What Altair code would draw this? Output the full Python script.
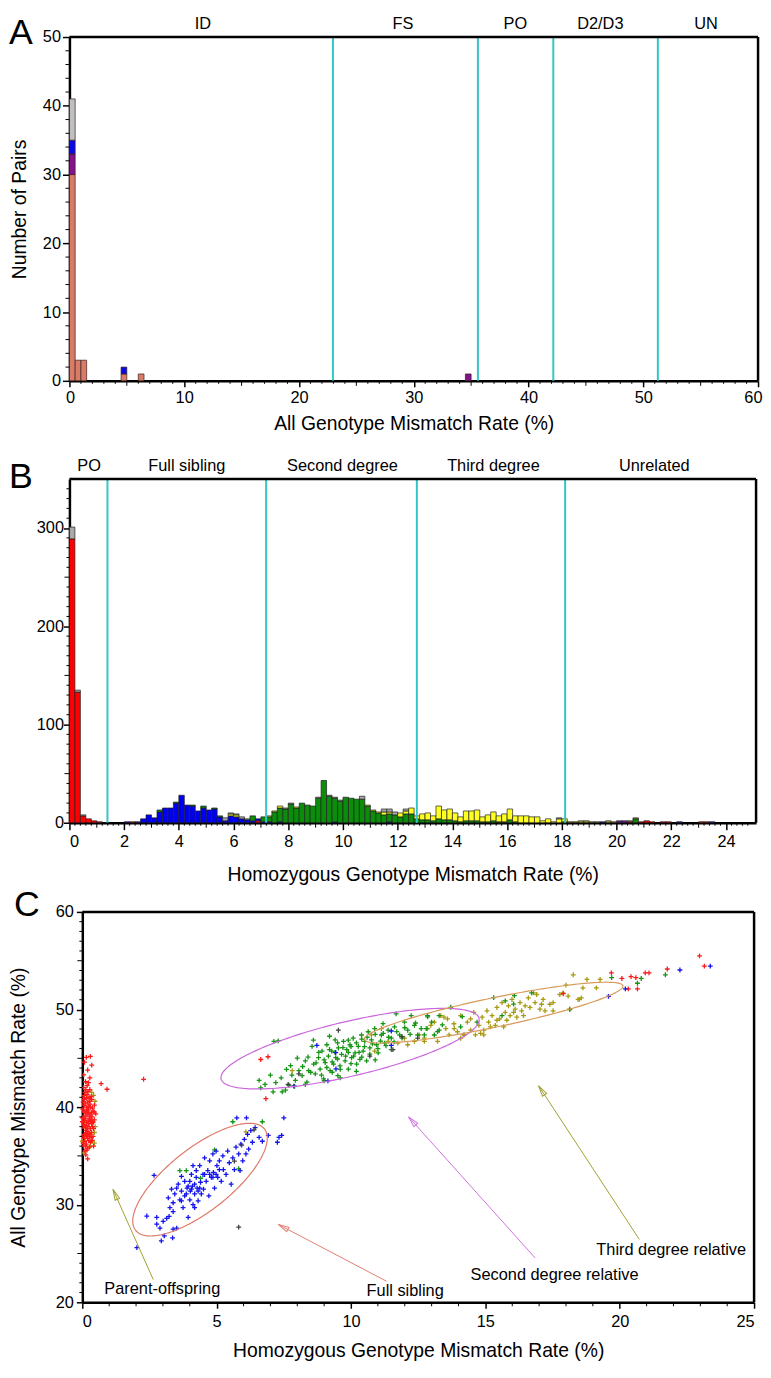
import math
import altair as alt
import numpy as np
import pandas as pd

FONT = "Liberation Sans"

# ======================= Panel A data =======================
A_BIN_START = [0.0, 0.5, 1.0, 4.5, 6.0, 34.5]
A_BIN_WIDTH = 0.5
A_SALMON = [30, 3, 3, 1, 1, 0]
A_PURPLE = [3, 0, 0, 0, 0, 1]
A_BLUE = [2, 0, 0, 1, 0, 0]
A_GREY = [6, 0, 0, 0, 0, 0]
A_CUTS = [22.96, 35.59, 42.16, 51.27]
A_REGION_NAMES = ["ID", "FS", "PO", "D2/D3", "UN"]
A_REGION_X = [11.63, 29.06, 38.85, 46.26, 55.47]
A_X_LABELS = [0, 10, 20, 30, 40, 50, 60]
A_Y_LABELS = [0, 10, 20, 30, 40, 50]

# ======================= Panel B data =======================
B_N_BINS = 126
B_BIN_WIDTH = 0.2
# {bin index: count}; bin k covers [0.2k, 0.2k+0.2)
B_RED = {0: 289, 1: 133, 2: 7, 3: 4, 4: 2, 5: 1, 11: 1, 34: 2, 102: 1, 104: 1,
         105: 2, 106: 1, 108: 1, 109: 1, 115: 1, 116: 1}
B_BLUE = {10: 1, 12: 1, 13: 4, 14: 8, 15: 5, 16: 11, 17: 15, 18: 15, 19: 20, 20: 28,
          21: 18, 22: 17, 23: 12, 24: 15, 25: 13, 26: 14, 27: 6, 28: 2, 29: 7, 30: 6,
          31: 4, 32: 3, 33: 2, 34: 2, 35: 1, 36: 1, 38: 1, 48: 1, 58: 1, 97: 1,
          111: 1, 117: 1}
B_GREEN = {16: 2, 19: 1, 22: 1, 24: 2, 26: 1, 27: 1, 33: 5, 35: 5, 36: 5, 37: 11,
           38: 14, 39: 14, 40: 19, 41: 15, 42: 20, 43: 18, 44: 17, 45: 25, 46: 43,
           47: 27, 48: 24, 49: 22, 50: 26, 51: 25, 52: 24, 53: 24, 54: 17, 55: 12,
           56: 10, 57: 8, 58: 8, 59: 8, 60: 6, 61: 9, 62: 9, 63: 4, 64: 3, 65: 3,
           66: 2, 67: 4, 68: 3, 69: 3, 70: 2, 71: 1, 72: 2, 73: 2, 74: 2, 75: 1,
           76: 1, 77: 2, 78: 1, 79: 1, 80: 3, 81: 1, 90: 1, 103: 4}
B_YELLOW = {29: 2, 30: 2, 36: 1, 37: 1, 38: 2, 41: 1, 54: 1, 55: 1, 56: 1, 57: 3,
            58: 2, 60: 4, 61: 3, 62: 6, 63: 3, 64: 6, 65: 7, 66: 5, 67: 13, 68: 10,
            69: 11, 70: 8, 71: 5, 72: 10, 73: 10, 74: 11, 75: 5, 76: 7, 77: 9, 78: 6,
            79: 8, 80: 11, 81: 6, 82: 7, 83: 7, 84: 6, 85: 6, 86: 2, 87: 4, 88: 1,
            89: 4, 90: 3}
B_OLIVE = {91: 1, 92: 1, 93: 2, 94: 2, 95: 1, 96: 1, 98: 2, 99: 1, 102: 1, 103: 1}
B_PURPLE = {100: 2, 101: 2}
B_GREY = {0: 12, 1: 2, 2: 1, 28: 3, 29: 1, 30: 1, 31: 2, 32: 1, 39: 1, 40: 1, 45: 1,
          47: 1, 48: 1, 49: 1, 53: 3, 57: 3, 58: 3, 59: 3, 61: 2, 89: 1}
B_CUTS = [1.39, 7.19, 12.70, 18.12]
B_REGION_NAMES = ["PO", "Full sibling", "Second degree", "Third degree", "Unrelated"]
B_REGION_X = [0.72, 4.29, 9.98, 15.5, 21.38]
B_X_LABELS = [0, 2, 4, 6, 8, 10, 12, 14, 16, 18, 20, 22, 24]
B_Y_LABELS = [0, 100, 200, 300]

# ======================= Panel C data =======================
C_RED = [(0.05, 36.0), (0.10, 36.5), (0.15, 37.0), (0.20, 37.5), (0.25, 38.0), (0.30, 38.5),
         (0.05, 39.0), (0.10, 39.5), (0.15, 40.0), (0.20, 40.5), (0.25, 41.0), (0.10, 41.5),
         (0.05, 42.0), (0.15, 36.2), (0.20, 36.8), (0.25, 37.3), (0.30, 37.8), (0.35, 38.3),
         (0.12, 38.8), (0.18, 39.3), (0.22, 39.8), (0.28, 40.3), (0.08, 40.8), (0.14, 37.6),
         (0.06, 38.2), (0.32, 39.2), (0.38, 38.0), (0.40, 39.6), (0.35, 40.8), (0.02, 37.0),
         (0.02, 39.8), (0.10, 35.5), (0.20, 35.8), (0.30, 36.4), (0.40, 37.0), (0.45, 38.7),
         (0.12, 42.6), (0.05, 43.3), (0.20, 43.8), (0.08, 44.6), (0.30, 45.2), (0.15, 45.1),
         (0.00, 38.5), (0.26, 39.0), (0.16, 38.4), (0.09, 37.2), (0.24, 36.6), (0.34, 37.4),
         (0.18, 41.3), (0.28, 41.8), (0.45, 40.2), (0.50, 39.3), (0.42, 36.0), (0.20, 34.7),
         (0.13, 35.1), (0.07, 40.2), (0.22, 38.6), (0.11, 37.9), (0.27, 37.0), (0.17, 39.7),
         (0.04, 41.0), (0.33, 36.9), (0.23, 40.0), (0.35, 44.3), (0.28, 42.99), (0.70, 42.41),
         (0.92, 41.83), (2.28, 42.85), (0.33, 36.5), (6.64, 44.88), (6.91, 45.16), (6.83, 40.86),
         (22.97, 55.5), (23.15, 54.44), (21.77, 54.15), (21.09, 53.76), (20.95, 53.76),
         (20.60, 53.27), (20.42, 53.37), (20.08, 53.18), (19.69, 53.76), (20.32, 52.11),
         (20.66, 52.11), (17.90, 51.62),
         (0.03, 36.3), (0.08, 36.8), (0.13, 37.3), (0.18, 37.8), (0.23, 38.3), (0.28, 38.8),
         (0.33, 39.4), (0.38, 39.9), (0.03, 38.0), (0.08, 38.6), (0.13, 39.1), (0.18, 39.6),
         (0.23, 40.1), (0.28, 40.6), (0.33, 41.1), (0.03, 40.5), (0.08, 41.2), (0.13, 41.8),
         (0.18, 42.2), (0.23, 42.5), (0.12, 36.0), (0.17, 35.6), (0.27, 35.9), (0.37, 36.6),
         (0.42, 37.8), (0.36, 39.0), (0.31, 40.0), (0.26, 40.9), (0.21, 41.6), (0.16, 40.9),
         (0.11, 40.4), (0.06, 39.5), (0.01, 38.9), (0.19, 37.1), (0.29, 37.2), (0.39, 38.4),
         (0.44, 39.5), (0.14, 38.1), (0.24, 39.4), (0.34, 38.7)]
C_BLUE = [(2.40, 28.84), (2.67, 33.0), (2.77, 28.7), (2.89, 27.6), (2.94, 26.3), (3.01, 28.3),
          (3.05, 26.8), (3.14, 28.6), (3.20, 30.7), (3.26, 29.7), (3.32, 31.6), (3.36, 26.6),
          (3.38, 30.2), (3.44, 31.1), (3.51, 27.6), (3.57, 32.1), (3.63, 30.5), (3.69, 31.4),
          (3.75, 29.7), (3.81, 32.4), (3.87, 31.1), (3.90, 31.7), (3.94, 28.7), (4.00, 30.5),
          (4.02, 31.4), (4.06, 33.1), (4.10, 31.9), (4.12, 30.0), (4.18, 31.1), (4.24, 32.8),
          (4.27, 31.7), (4.31, 30.4), (4.37, 34.0), (4.40, 32.3), (4.43, 31.1), (4.49, 33.1),
          (4.51, 31.6), (4.55, 34.8), (4.61, 32.4), (4.67, 33.5), (4.71, 30.9), (4.74, 34.5),
          (4.80, 32.8), (4.86, 35.2), (4.88, 33.3), (4.92, 31.7), (4.98, 35.5), (5.01, 34.0),
          (5.04, 32.8), (5.10, 34.5), (5.17, 32.4), (5.23, 35.0), (5.25, 33.6), (5.35, 33.1),
          (5.41, 35.5), (5.47, 34.3), (5.54, 32.1), (5.60, 34.8), (5.66, 33.6), (5.72, 35.9),
          (5.82, 35.2), (5.87, 33.5), (5.90, 36.2), (5.97, 34.5), (6.03, 36.7), (6.09, 35.2),
          (6.15, 37.2), (6.19, 35.7), (6.27, 37.6), (6.33, 36.4), (6.43, 37.9), (6.58, 36.9),
          (6.70, 36.5), (6.92, 37.1), (7.26, 36.4), (7.32, 36.9), (7.42, 37.1), (7.50, 38.9),
          (6.11, 38.9), (5.75, 38.9), (3.38, 27.5), (2.77, 28.0), (4.18, 29.7), (2.03, 25.6),
          (3.94, 31.9), (4.06, 31.6), (4.18, 32.1), (4.31, 31.4), (4.00, 32.4), (3.81, 30.9),
          (3.69, 30.4), (4.37, 31.7), (4.55, 33.1), (4.74, 33.1), (4.86, 32.8), (4.98, 33.1),
          (5.10, 33.6), (4.24, 33.5), (4.12, 34.0), (3.69, 32.9), (3.51, 31.7), (3.38, 29.3),
          (3.23, 28.8), (8.73, 46.33), (9.43, 45.58), (9.44, 43.91), (9.14, 42.69),
          (7.87, 42.15), (11.50, 47.80), (11.50, 46.33), (23.37, 54.44), (22.24, 54.05),
          (19.58, 51.35), (20.21, 52.11)]
C_GREEN = [(7.13, 46.73), (7.29, 46.78), (6.64, 41.97), (6.58, 42.74), (7.10, 41.57), (7.44, 41.57),
           (7.56, 41.73), (7.69, 42.24), (7.75, 44.25), (7.93, 42.74), (8.06, 43.73), (8.18, 43.23),
           (8.30, 44.73), (8.36, 42.56), (8.42, 43.73), (8.55, 46.22), (8.61, 44.40), (8.67, 43.40),
           (8.79, 45.06), (8.85, 43.89), (8.92, 45.73), (8.98, 42.90), (9.04, 44.56), (9.10, 46.39),
           (9.16, 45.22), (9.22, 43.73), (9.28, 45.73), (9.35, 44.40), (9.41, 46.89), (9.43, 45.06),
           (9.51, 43.23), (9.53, 46.06), (9.59, 44.23), (9.65, 45.40), (9.72, 46.73), (9.78, 44.73),
           (9.84, 45.89), (9.90, 43.89), (9.96, 46.39), (10.02, 45.06), (10.08, 47.06), (10.15, 45.56),
           (10.21, 44.40), (10.27, 46.22), (10.33, 44.89), (10.39, 47.39), (10.45, 45.73), (10.51, 46.73),
           (10.58, 44.73), (10.64, 47.72), (10.70, 46.06), (10.76, 46.89), (10.88, 48.05), (10.95, 46.39),
           (11.01, 45.56), (11.13, 47.39), (11.19, 48.55), (11.25, 46.55), (11.38, 47.88), (11.50, 47.06),
           (11.62, 48.22), (11.68, 49.55), (11.81, 47.39), (11.99, 48.71), (12.11, 47.88), (12.24, 49.38),
           (12.36, 48.38), (12.48, 47.39), (12.61, 48.05), (12.85, 49.24), (13.10, 47.39), (13.28, 47.88),
           (8.2, 44.16), (8.4, 45.13), (8.5, 43.57), (8.7, 44.54), (8.8, 45.61), (8.9, 43.28),
           (9.0, 44.83), (9.1, 44.06), (9.2, 45.90), (9.3, 44.64), (9.3, 43.57), (9.4, 45.61),
           (9.5, 44.93), (9.5, 46.58), (9.6, 43.86), (9.7, 46.10), (9.8, 45.22), (9.9, 46.87),
           (9.9, 45.61), (10.0, 44.45), (10.0, 46.19), (10.1, 45.22), (10.2, 46.58), (10.3, 45.61),
           (10.4, 46.97), (10.4, 45.13), (10.5, 46.19), (10.6, 47.16), (10.7, 45.42), (10.8, 46.48),
           (10.9, 47.45), (11.0, 46.00), (11.1, 46.77), (11.2, 47.55), (11.3, 46.29), (11.4, 47.16),
           (11.6, 46.68), (11.7, 47.74), (11.9, 47.07), (12.0, 48.13), (12.2, 47.45), (12.4, 48.62),
           (8.0, 45.03), (7.8, 43.28), (7.6, 43.86), (7.4, 42.99), (7.2, 42.51), (7.0, 43.28),
           (6.8, 42.32), (7.9, 42.12), (8.3, 42.32), (9.0, 42.70), (9.6, 42.99), (10.2, 43.67),
           (8.6, 46.87), (9.2, 47.26), (10.9, 44.83), (11.5, 45.90), (12.8, 48.04), (13.0, 48.71),
           (13.4, 48.42), (12.85, 49.37), (13.28, 49.37), (14.14, 49.27), (13.71, 50.23),
           (15.31, 51.22), (15.74, 50.89), (16.08, 51.43), (16.72, 51.70), (16.05, 50.56),
           (18.14, 49.99), (13.22, 47.73), (12.73, 47.40), (14.08, 48.23), (14.69, 48.71),
           (15.62, 49.37), (21.70, 53.56), (20.80, 53.18), (20.66, 52.69), (19.70, 53.27),
           (5.60, 38.5), (6.70, 38.5), (4.92, 35.62), (3.63, 33.49), (3.87, 33.49), (4.40, 32.71),
           (5.82, 33.68)]
C_OLIVE = [(12.54, 47.40), (12.97, 48.38), (13.46, 49.21), (13.53, 48.05), (13.65, 47.40),
           (13.83, 48.54), (13.96, 47.72), (14.20, 47.40), (14.33, 48.71), (14.45, 47.88),
           (14.57, 49.70), (14.63, 47.40), (14.76, 48.38), (14.88, 49.21), (14.94, 47.88),
           (15.06, 49.87), (15.12, 48.71), (15.25, 49.37), (15.37, 48.38), (15.43, 50.21),
           (15.53, 49.04), (15.62, 50.70), (15.74, 49.70), (15.86, 50.37), (15.92, 49.37),
           (15.99, 51.03), (16.11, 50.03), (16.17, 49.21), (16.29, 50.70), (16.35, 49.87),
           (16.48, 50.37), (16.60, 51.20), (16.66, 50.21), (16.79, 51.70), (16.85, 50.70),
           (16.91, 51.54), (17.03, 50.03), (17.09, 50.54), (17.22, 49.87), (17.40, 50.54),
           (17.52, 50.70), (17.77, 51.54), (17.89, 51.70), (18.08, 51.37), (18.45, 51.03),
           (18.57, 51.20), (17.52, 49.87), (17.15, 51.03), (16.42, 49.37), (15.68, 48.23),
           (14.94, 47.40), (14.08, 47.06), (13.22, 46.73), (12.73, 46.73), (14.45, 49.04),
           (14.82, 47.55), (15.19, 48.23), (15.43, 48.90), (15.80, 48.90), (16.05, 49.70),
           (18.27, 53.56), (18.78, 53.08), (19.27, 53.08), (19.13, 52.21), (18.63, 52.21),
           (18.00, 52.50), (18.50, 51.04), (18.14, 50.07), (10.76, 47.40), (11.13, 48.05),
           (11.38, 46.73), (11.74, 46.55), (12.11, 46.39), (12.36, 46.73), (12.73, 47.06),
           (12.85, 48.05), (13.10, 48.71), (13.34, 49.38), (13.59, 49.04), (13.84, 48.05),
           (14.08, 49.38), (14.20, 47.40), (11.99, 47.06), (10.88, 45.73), (7.81, 43.73),
           (0.35, 41.5), (0.30, 36.0), (0.40, 38.5), (0.05, 35.3), (0.45, 37.4), (6.09, 37.46),
           (0.48, 38.0), (0.47, 40.6), (0.42, 41.2), (0.00, 36.5), (0.45, 36.3)]
C_DARK = [(9.53, 47.88), (10.70, 45.22), (11.56, 45.89), (11.90, 47.22), (12.48, 47.06),
          (8.06, 43.40), (7.66, 42.33), (6.39, 37.66), (5.93, 36.10), (5.66, 34.46), (5.82, 27.7)]

# ellipses: centre, half major-axis vector, half minor-axis vector (data units)
C_ELL_NAMES = ["Full sibling", "Second degree", "Third degree"]
C_ELL_CX = [4.38, 9.965, 15.31]
C_ELL_CY = [32.57, 45.99, 49.68]
C_ELL_UX = [2.40, 4.80, 4.81]
C_ELL_UY = [5.18, 3.11, 2.75]
C_ELL_VX = [0.71, 0.24, 0.11]
C_ELL_VY = [-2.55, -2.72, -1.47]

C_ARROW_NAMES = ["Parent-offspring", "Full sibling", "Second degree relative", "Third degree relative"]
C_ARROW_TAIL_X = [2.64, 11.32, 16.85, 20.73]
C_ARROW_TAIL_Y = [22.33, 22.16, 24.55, 26.44]
C_ARROW_HEAD_X = [1.14, 7.29, 12.14, 16.98]
C_ARROW_HEAD_Y = [31.58, 27.98, 39.00, 42.19]
C_LABEL_X = [0.82, 10.58, 14.45, 19.13]
C_LABEL_Y = [21.37, 21.13, 22.84, 25.34]
C_X_LABELS = [0, 5, 10, 15, 20, 25]
C_Y_LABELS = [20, 30, 40, 50, 60]

# ======================= styles / geometry =======================
A_COLORS = {"salmon": "#d97c67", "purple": "#84128a", "blue": "#0a0ae6", "grey": "#bfbfbf"}
B_COLORS = {"red": "#ff0000", "blue": "#0000f0", "green": "#0b8c0b", "yellow": "#ffff22",
            "olive": "#9c9a30", "purple": "#6b1c8e", "grey": "#a9a9a9"}
C_COLORS = {"red": "#ff1a1a", "blue": "#1414ee", "green": "#169416", "olive": "#a89a12",
            "dark": "#404040"}
ELL_COLORS = ["#e07a6a", "#cc66dd", "#d89a58"]
ARROW_COLORS = ["#a0a030", "#e08070", "#d070e0", "#a0a030"]
CYAN = "#33c6c6"
LABEL_FS = 16.5
TITLE_FS = 19.5
TEXT_FS = 16.5
LETTER_FS = 36
FRAME_W = 2.5

# each panel: plot area inset (left, top) inside its own cell, plot width/height
A_L, A_T, WA, HA = 61, 21, 695, 347
B_L, B_T, WB, HB = 61, 99, 693, 347
C_L, C_T, WC, HC = 74, 90, 678, 394
XB_MAX = 25.1


# ======================= helpers =======================
def xtick_layer(vals, length, scale, axis, bottom):
    df = pd.DataFrame({"v": vals})
    return alt.Chart(df).mark_rule(color="black", strokeWidth=1).encode(
        x=alt.X("v:Q", scale=scale, axis=axis),
        y=alt.value(bottom), y2=alt.value(bottom + length))


def ytick_layer(vals, length, scale, axis, left):
    df = pd.DataFrame({"v": vals})
    return alt.Chart(df).mark_rule(color="black", strokeWidth=1).encode(
        y=alt.Y("v:Q", scale=scale, axis=axis),
        x=alt.value(left), x2=alt.value(left - length))


def letter_layer(t, x, y):
    return alt.Chart(pd.DataFrame({"t": [t]})).mark_text(
        align="left", baseline="top", fontSize=LETTER_FS, font=FONT, color="black"
    ).encode(x=alt.value(x), y=alt.value(y), text="t:N")


def frame_layers(x_lo, x_hi, scale, axis, top, bottom):
    df = pd.DataFrame({"x0": [x_lo], "x1": [x_hi]})
    top_line = alt.Chart(df).mark_rule(color="black", strokeWidth=FRAME_W).encode(
        x=alt.X("x0:Q", scale=scale, axis=axis), x2="x1:Q", y=alt.value(top))
    right_line = alt.Chart(df).mark_rule(color="black", strokeWidth=FRAME_W).encode(
        x=alt.X("x1:Q", scale=scale, axis=axis), y=alt.value(top), y2=alt.value(bottom))
    return top_line, right_line


def region_layers(cuts, names, xs, scale, axis, top, bottom):
    rules = alt.Chart(pd.DataFrame({"c": cuts})).mark_rule(color=CYAN, strokeWidth=2).encode(
        x=alt.X("c:Q", scale=scale, axis=axis), y=alt.value(top), y2=alt.value(bottom))
    labels = alt.Chart(pd.DataFrame({"x": xs, "t": names})).mark_text(
        fontSize=TEXT_FS, baseline="top", font=FONT, color="black").encode(
        x=alt.X("x:Q", scale=scale, axis=axis), y=alt.value(top - 21), text="t:N")
    return rules, labels


# ======================= Panel A =======================
a_rows = []
for i, xs in enumerate(A_BIN_START):
    base = 0
    for cat, arr in [("salmon", A_SALMON), ("purple", A_PURPLE), ("blue", A_BLUE), ("grey", A_GREY)]:
        c = arr[i]
        if c > 0:
            a_rows.append({"x0": xs, "x1": xs + A_BIN_WIDTH, "y0": base, "y1": base + c,
                           "col": A_COLORS[cat]})
            base += c
dfa = pd.DataFrame(a_rows)

XS_A = alt.Scale(domain=[0, 60], nice=False, zero=False, range=[A_L, A_L + WA])
YS_A = alt.Scale(domain=[0, 50], nice=False, range=[A_T + HA, A_T])
AX_A_X = alt.Axis(values=A_X_LABELS, title="All Genotype Mismatch Rate (%)", tickSize=6,
                  labelPadding=3, titlePadding=9, labelFlush=True, labelFlushOffset=4)
AX_A_Y = alt.Axis(values=A_Y_LABELS, title="Number of Pairs", tickSize=7, labelPadding=2,
                  titlePadding=13, offset=-A_L)

bars_a = alt.Chart(dfa).mark_rect(stroke="#3a2020", strokeWidth=0.7).encode(
    x=alt.X("x0:Q", scale=XS_A, axis=AX_A_X), x2="x1:Q",
    y=alt.Y("y0:Q", scale=YS_A, axis=AX_A_Y), y2="y1:Q",
    color=alt.Color("col:N", scale=None))
rules_a, labels_a = region_layers(A_CUTS, A_REGION_NAMES, A_REGION_X, XS_A, AX_A_X, A_T, A_T + HA)
ftop_a, fright_a = frame_layers(A_X_LABELS[0], A_X_LABELS[-1], XS_A, AX_A_X, A_T, A_T + HA)
panel_a = alt.layer(
    bars_a, rules_a, labels_a, ftop_a, fright_a,
    xtick_layer([v for v in range(1, 60) if v % 5 != 0], 3, XS_A, AX_A_X, A_T + HA),
    xtick_layer([v for v in range(5, 60, 10)], 5, XS_A, AX_A_X, A_T + HA),
    ytick_layer([v for v in range(2, 50, 2) if v % 10 != 0], 4, YS_A, AX_A_Y, A_L),
    letter_layer("A", 0, A_T - 21),
).properties(width=A_L + WA, height=A_T + HA)

# ======================= Panel B =======================
b_order = [("red", B_RED), ("blue", B_BLUE), ("green", B_GREEN), ("yellow", B_YELLOW),
           ("olive", B_OLIVE), ("purple", B_PURPLE), ("grey", B_GREY)]
b_rows = []
for k in range(B_N_BINS):
    base = 0
    x0 = round(k * B_BIN_WIDTH, 4)
    for cat, d in b_order:
        c = d.get(k, 0)
        if c > 0:
            b_rows.append({"x0": x0, "x1": round(x0 + B_BIN_WIDTH, 4), "y0": base,
                           "y1": base + c, "col": B_COLORS[cat]})
            base += c
dfb = pd.DataFrame(b_rows)

XS_B = alt.Scale(domain=[0, XB_MAX], nice=False, zero=False, range=[B_L, B_L + WB])
YS_B = alt.Scale(domain=[0, 350], nice=False, range=[B_T + HB, B_T])
AX_B_X = alt.Axis(values=B_X_LABELS, title="Homozygous Genotype Mismatch Rate (%)", tickSize=7,
                  labelPadding=4, titlePadding=16)
AX_B_Y = alt.Axis(values=B_Y_LABELS, title=None, tickSize=6, labelPadding=0, offset=-B_L)

bars_b = alt.Chart(dfb).mark_rect(stroke="#202020", strokeWidth=0.7).encode(
    x=alt.X("x0:Q", scale=XS_B, axis=AX_B_X), x2="x1:Q",
    y=alt.Y("y0:Q", scale=YS_B, axis=AX_B_Y), y2="y1:Q",
    color=alt.Color("col:N", scale=None))
rules_b, labels_b = region_layers(B_CUTS, B_REGION_NAMES, B_REGION_X, XS_B, AX_B_X, B_T, B_T + HB)
ftop_b, fright_b = frame_layers(0, XB_MAX, XS_B, AX_B_X, B_T, B_T + HB)
b_minor = [round(k * 0.2, 4) for k in range(1, 126) if k % 5 != 0]
panel_b = alt.layer(
    bars_b, rules_b, labels_b, ftop_b, fright_b,
    xtick_layer(b_minor, 3, XS_B, AX_B_X, B_T + HB),
    xtick_layer([v for v in range(1, 25, 2)], 5, XS_B, AX_B_X, B_T + HB),
    ytick_layer([v for v in range(10, 350, 10) if v % 50 != 0], 3, YS_B, AX_B_Y, B_L),
    ytick_layer([50, 150, 250], 5, YS_B, AX_B_Y, B_L),
    letter_layer("B", 0, B_T - 19),
).properties(width=B_L + WB, height=B_T + HB)

# ======================= Panel C =======================
XS_C = alt.Scale(domain=[0, 25], nice=False, zero=False, range=[C_L, C_L + WC])
YS_C = alt.Scale(domain=[20, 60], nice=False, zero=False, range=[C_T + HC, C_T])
AX_C_X = alt.Axis(values=C_X_LABELS, title="Homozygous Genotype Mismatch Rate (%)", tickSize=6,
                  labelPadding=5, titlePadding=12)
AX_C_Y = alt.Axis(values=C_Y_LABELS, title="All Genotype Mismatch Rate (%)", tickSize=6,
                  labelPadding=3, titlePadding=27, offset=-C_L)

pts = []
for name, lst in [("olive", C_OLIVE), ("green", C_GREEN), ("red", C_RED), ("blue", C_BLUE),
                  ("dark", C_DARK)]:
    for (x, y) in lst:
        pts.append({"x": x, "y": y, "col": C_COLORS[name]})
dfc = pd.DataFrame(pts)

PLUS = "M-1,0L1,0M0,-1L0,1"
scatter = alt.Chart(dfc).mark_point(shape=PLUS, filled=False, size=24, strokeWidth=1.3,
                                    opacity=1).encode(
    x=alt.X("x:Q", scale=XS_C, axis=AX_C_X),
    y=alt.Y("y:Q", scale=YS_C, axis=AX_C_Y),
    color=alt.Color("col:N", scale=None))

ell_rows = []
ts = np.linspace(0, 2 * np.pi, 181)
for j, nm in enumerate(C_ELL_NAMES):
    for i, t in enumerate(ts):
        ell_rows.append({
            "name": nm, "i": i,
            "x": C_ELL_CX[j] + C_ELL_UX[j] * math.cos(t) + C_ELL_VX[j] * math.sin(t),
            "y": C_ELL_CY[j] + C_ELL_UY[j] * math.cos(t) + C_ELL_VY[j] * math.sin(t),
            "col": ELL_COLORS[j]})
dfe = pd.DataFrame(ell_rows)
ellipses = alt.Chart(dfe).mark_line(strokeWidth=1.2).encode(
    x=alt.X("x:Q", scale=XS_C, axis=AX_C_X),
    y=alt.Y("y:Q", scale=YS_C, axis=AX_C_Y),
    order="i:Q", detail="name:N",
    color=alt.Color("col:N", scale=None))

sx, sy = WC / 25.0, HC / 40.0
HEAD_LEN = 5.5
arr_rows = []
for j, nm in enumerate(C_ARROW_NAMES):
    tx, ty, hx, hy = C_ARROW_TAIL_X[j], C_ARROW_TAIL_Y[j], C_ARROW_HEAD_X[j], C_ARROW_HEAD_Y[j]
    dx = (hx - tx) * sx
    dys = -(hy - ty) * sy
    L = math.hypot(dx, dys)
    ux, uy = dx / L, dys / L
    ang = math.degrees(math.atan2(dx, -dys)) % 360
    arr_rows.append({"name": nm, "tx": tx, "ty": ty, "hx": hx, "hy": hy,
                     "cx": hx - ux * HEAD_LEN / sx, "cy": hy + uy * HEAD_LEN / sy,
                     "ang": ang, "col": ARROW_COLORS[j],
                     "lx": C_LABEL_X[j], "ly": C_LABEL_Y[j]})
dfarr = pd.DataFrame(arr_rows)
arrow_lines = alt.Chart(dfarr).mark_rule(strokeWidth=1).encode(
    x=alt.X("tx:Q", scale=XS_C, axis=AX_C_X), x2="hx:Q",
    y=alt.Y("ty:Q", scale=YS_C, axis=AX_C_Y), y2="hy:Q",
    color=alt.Color("col:N", scale=None))
HEAD = "M0,-1L0.45,1L-0.45,1Z"
arrow_heads = alt.Chart(dfarr).mark_point(shape=HEAD, filled=False, size=121, strokeWidth=1,
                                          opacity=1).encode(
    x=alt.X("cx:Q", scale=XS_C, axis=AX_C_X),
    y=alt.Y("cy:Q", scale=YS_C, axis=AX_C_Y),
    angle=alt.Angle("ang:Q", scale=None),
    color=alt.Color("col:N", scale=None))
arrow_text = alt.Chart(dfarr).mark_text(align="left", baseline="middle", fontSize=TEXT_FS,
                                        font=FONT, color="black").encode(
    x=alt.X("lx:Q", scale=XS_C, axis=AX_C_X),
    y=alt.Y("ly:Q", scale=YS_C, axis=AX_C_Y),
    text="name:N")

ftop_c, fright_c = frame_layers(C_X_LABELS[0], C_X_LABELS[-1], XS_C, AX_C_X, C_T, C_T + HC)

panel_c = alt.layer(
    scatter, ellipses, arrow_lines, arrow_heads, arrow_text, ftop_c, fright_c,
    xtick_layer([v for v in range(1, 25) if v % 5 != 0], 4, XS_C, AX_C_X, C_T + HC),
    ytick_layer([v for v in range(21, 60) if v % 5 != 0], 3, YS_C, AX_C_Y, C_L),
    ytick_layer([25, 35, 45, 55], 5, YS_C, AX_C_Y, C_L),
    letter_layer("C", 5, C_T - 24),
).properties(width=C_L + WC, height=C_T + HC)

chart = alt.vconcat(panel_a, panel_b, panel_c, spacing=0, bounds="flush").properties(
    padding=0
).configure_view(
    stroke="transparent"
).configure_axis(
    labelFont=FONT, labelFontSize=LABEL_FS, labelColor="black",
    titleFont=FONT, titleFontSize=TITLE_FS, titleFontWeight="normal", titleColor="black",
    domainColor="black", domainWidth=FRAME_W, tickColor="black", tickWidth=1.5, grid=False
).configure_text(font=FONT)

chart.save("out.html", embed_options={"renderer": "svg", "actions": False})
